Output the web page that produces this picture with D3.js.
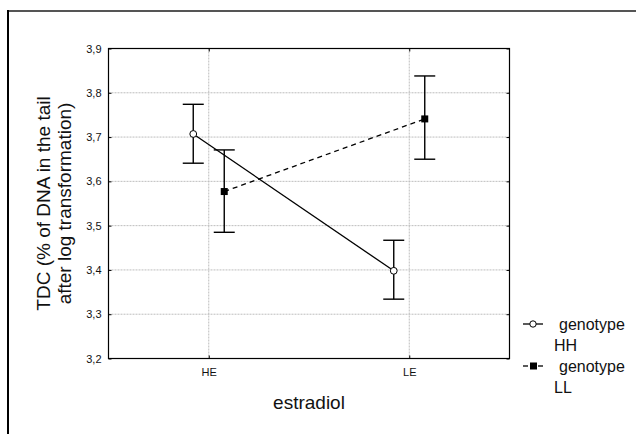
<!DOCTYPE html>
<html><head><meta charset="utf-8">
<script src="https://cdn.jsdelivr.net/npm/d3@7"></script>
<style>body{margin:0;background:#fff}svg{display:block}text{font-family:Arial,"Liberation Sans",sans-serif;fill:#111}</style>
</head><body>
<svg id="c" width="636" height="434"></svg>
<script>
const categories = ["HE", "LE"];
const seriesNames = ["genotype HH", "genotype LL"];
const hhMean = [3.707, 3.398];
const hhLow  = [3.641, 3.334];
const hhHigh = [3.774, 3.467];
const llMean = [3.577, 3.741];
const llLow  = [3.485, 3.650];
const llHigh = [3.671, 3.838];
const yTicks = [3.2, 3.3, 3.4, 3.5, 3.6, 3.7, 3.8, 3.9];

const svg = d3.select("#c");
const L = 108.5, R = 509.5, T = 48.5, B = 358.5;

// outer frame
svg.append("line").attr("x1", 8).attr("x2", 640).attr("y1", 11).attr("y2", 11).attr("stroke", "#555").attr("stroke-width", 2);
svg.append("line").attr("x1", 8).attr("x2", 8).attr("y1", 10).attr("y2", 440).attr("stroke", "#000").attr("stroke-width", 2);

const x = d3.scalePoint().domain(categories).range([L, R]).padding(0.5);
const y = d3.scaleLinear().domain([3.2, 3.9]).range([B, T]);
const fmt = d => d.toFixed(1).replace(".", ",");
const offset = 15.5;

// grid
const g = svg.append("g");
g.selectAll(".hg").data(yTicks.slice(1, -1)).join("line")
  .attr("x1", L).attr("x2", R).attr("y1", d => y(d)).attr("y2", d => y(d))
  .attr("stroke", "#bdbdbd").attr("stroke-dasharray", "2,1");
g.selectAll(".vg").data(categories).join("line")
  .attr("x1", d => x(d)).attr("x2", d => x(d)).attr("y1", T).attr("y2", B)
  .attr("stroke", "#bdbdbd").attr("stroke-dasharray", "2,1");

// axes
const yAxis = d3.axisLeft(y).tickValues(yTicks).tickFormat(fmt).tickSize(-3).tickPadding(7);
svg.append("g").attr("transform", `translate(${L},0)`).call(yAxis)
  .call(a => a.select(".domain").remove())
  .call(a => a.selectAll("text").attr("font-size", 11).attr("fill", "#222"));
svg.append("g").attr("transform", `translate(${R},0)`).call(d3.axisRight(y).tickValues(yTicks).tickSize(-3).tickFormat(""))
  .call(a => a.select(".domain").remove());
const xAxis = d3.axisBottom(x).tickSize(-3).tickPadding(10);
svg.append("g").attr("transform", `translate(0,${B})`).call(xAxis)
  .call(a => a.select(".domain").remove())
  .call(a => a.selectAll("text").attr("font-size", 11).attr("fill", "#222"));
svg.append("g").attr("transform", `translate(0,${T})`).call(d3.axisTop(x).tickSize(-3).tickFormat(""))
  .call(a => a.select(".domain").remove());
svg.append("rect").attr("x", L).attr("y", T).attr("width", R - L).attr("height", B - T)
  .attr("fill", "none").attr("stroke", "#000").attr("stroke-width", 1.2);

// titles
svg.append("text").attr("x", (L + R) / 2).attr("y", 409).attr("text-anchor", "middle").attr("font-size", 19).text("estradiol");
const yl = svg.append("text").attr("transform", `translate(50,${(T + B) / 2}) rotate(-90)`).attr("text-anchor", "middle").attr("font-size", 19);
yl.append("tspan").attr("x", 0).attr("y", 0).text("TDC (% of DNA in the tail");
yl.append("tspan").attr("x", 0).attr("y", 21).text("after log transformation)");

// series
const series = [
  {name: seriesNames[0], mean: hhMean, lo: hhLow, hi: hhHigh, dx: -offset, dash: null, marker: "circle"},
  {name: seriesNames[1], mean: llMean, lo: llLow, hi: llHigh, dx: offset, dash: "5,4", marker: "square"}
];
const cap = 10.5;
series.forEach(s => {
  const pts = categories.map((c, i) => ({x: x(c) + s.dx, m: s.mean[i], lo: s.lo[i], hi: s.hi[i]}));
  svg.append("path").attr("d", d3.line().x(d => d.x).y(d => y(d.m))(pts))
    .attr("fill", "none").attr("stroke", "#000").attr("stroke-width", 1.3).attr("stroke-dasharray", s.dash);
  const eb = svg.append("g").attr("stroke", "#000").attr("stroke-width", 1.4);
  pts.forEach(p => {
    eb.append("line").attr("x1", p.x).attr("x2", p.x).attr("y1", y(p.lo)).attr("y2", y(p.hi));
    eb.append("line").attr("x1", p.x - cap).attr("x2", p.x + cap).attr("y1", y(p.lo)).attr("y2", y(p.lo));
    eb.append("line").attr("x1", p.x - cap).attr("x2", p.x + cap).attr("y1", y(p.hi)).attr("y2", y(p.hi));
  });
  pts.forEach(p => {
    if (s.marker === "circle")
      svg.append("circle").attr("cx", p.x).attr("cy", y(p.m)).attr("r", 3.4).attr("fill", "#fff").attr("stroke", "#000").attr("stroke-width", 1);
    else
      svg.append("rect").attr("x", p.x - 3.5).attr("y", y(p.m) - 3.5).attr("width", 7).attr("height", 7).attr("fill", "#000");
  });
});

// legend
const leg = svg.append("g");
series.forEach((s, i) => {
  const cy = 324 + i * 42;
  const parts = s.name.split(" ");
  if (s.dash) {
    leg.append("line").attr("x1", 523).attr("x2", 528).attr("y1", cy).attr("y2", cy).attr("stroke", "#000").attr("stroke-width", 1.3);
    leg.append("line").attr("x1", 538).attr("x2", 543).attr("y1", cy).attr("y2", cy).attr("stroke", "#000").attr("stroke-width", 1.3);
    leg.append("rect").attr("x", 530).attr("y", cy - 3.5).attr("width", 7).attr("height", 7).attr("fill", "#000");
  } else {
    leg.append("line").attr("x1", 523).attr("x2", 543).attr("y1", cy).attr("y2", cy).attr("stroke", "#000").attr("stroke-width", 1.3);
    leg.append("circle").attr("cx", 533).attr("cy", cy).attr("r", 3.2).attr("fill", "#fff").attr("stroke", "#000");
  }
  leg.append("text").attr("x", 559).attr("y", cy + 6).attr("font-size", 16).text(parts[0]);
  leg.append("text").attr("x", 554).attr("y", cy + 27).attr("font-size", 16).text(parts[1]);
});
</script>
</body></html>
